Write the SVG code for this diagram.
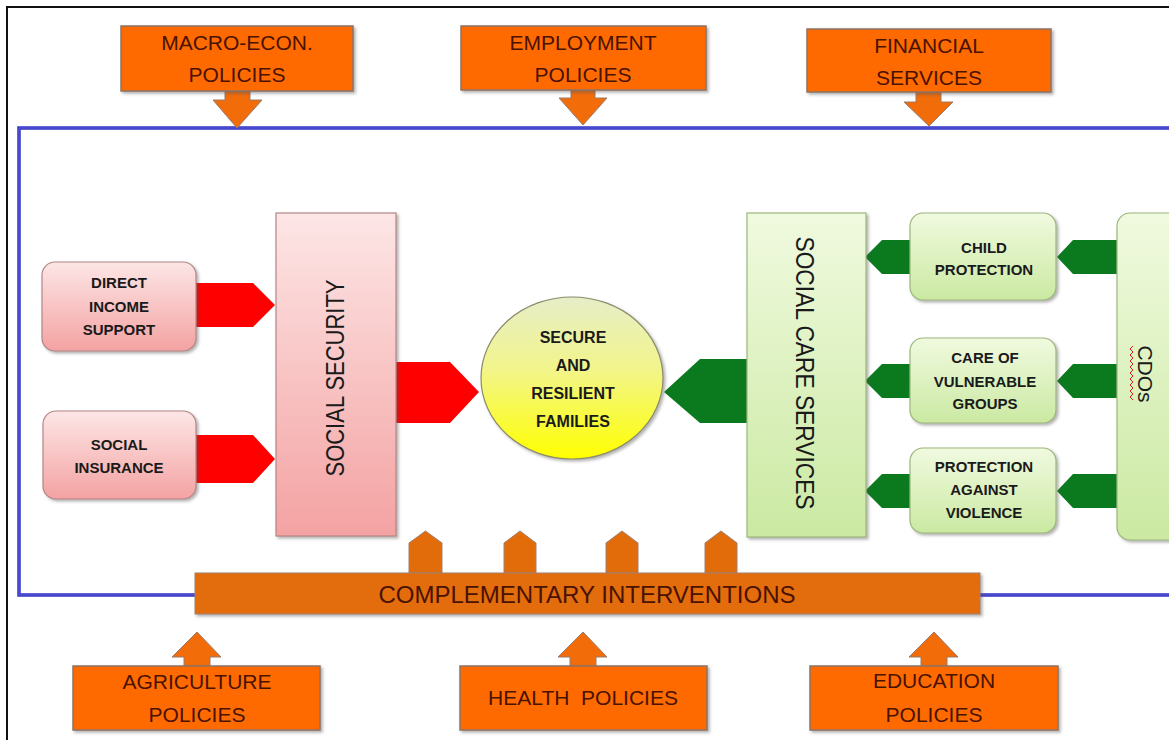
<svg xmlns="http://www.w3.org/2000/svg" width="1169" height="740" viewBox="0 0 1169 740">
<defs>
<linearGradient id="pink" x1="0" y1="0" x2="0" y2="1"><stop offset="0" stop-color="#fde6e6"/><stop offset="1" stop-color="#f4a2a2"/></linearGradient>
<linearGradient id="green" x1="0" y1="0" x2="0" y2="1"><stop offset="0" stop-color="#f0fadf"/><stop offset="1" stop-color="#cbe9a2"/></linearGradient>
<linearGradient id="yellow" x1="0" y1="0" x2="0" y2="1"><stop offset="0" stop-color="#e6edc8"/><stop offset="0.45" stop-color="#f2f58a"/><stop offset="1" stop-color="#ffff00"/></linearGradient>
<filter id="sh" x="-10%" y="-10%" width="130%" height="140%"><feDropShadow dx="2" dy="2" stdDeviation="1.5" flood-color="#555" flood-opacity="0.45"/></filter>
</defs>
<style>
.ob{fill:#ff6a00;stroke:#8c7466;stroke-width:1.5}
.oa{fill:#f26c0a;stroke:#9a7a6a;stroke-width:1}
.bar{fill:#e36c0a;stroke:#a0806e;stroke-width:1}
.ot{font-family:"Liberation Sans",Arial,sans-serif;font-size:21px;fill:#4a1200;text-anchor:middle}
.pk{fill:url(#pink);stroke:#b48686;stroke-width:1.2}
.gr{fill:url(#green);stroke:#9cb67c;stroke-width:1.2}
.bt{font-family:"Liberation Sans",Arial,sans-serif;font-size:15px;font-weight:bold;fill:#1a1a1a;text-anchor:middle}
.big{font-family:"Liberation Sans",Arial,sans-serif;font-size:25px;fill:#1a1a1a;text-anchor:middle}
.red{fill:#ff0000}
.dg{fill:#0b7a1e}
</style>
<rect x="0" y="0" width="1169" height="740" fill="#ffffff"/>
<path d="M7,740 V7 H1169" fill="none" stroke="#111" stroke-width="2"/>
<rect x="19" y="128" width="1160" height="467" fill="none" stroke="#3232c4" stroke-width="3.5"/>
<rect x="19" y="128" width="1160" height="467" fill="none" stroke="#6a6ae0" stroke-width="0.8"/>

<g id="connectors">
<path class="oa" d="M225,91 H250 V100 H262 L237,128 L213,100 H225 Z"/>
<path class="oa" d="M571,90 H595 V98 H607 L583,125 L559,98 H571 Z"/>
<path class="oa" d="M916,92 H941 V102 H953 L929,126 L904,102 H916 Z"/>
<path class="oa" d="M184,666 V657 H172 L197,632 L221,657 H210 V666 Z"/>
<path class="oa" d="M570,666 V657 H558 L583,632 L607,657 H596 V666 Z"/>
<path class="oa" d="M921,666 V657 H909 L934,632 L958,657 H947 V666 Z"/>
<path class="bar" d="M409,573 V543 L425.5,531 L442,543 V573 Z"/>
<path class="bar" d="M504,573 V543 L520,531 L536,543 V573 Z"/>
<path class="bar" d="M606,573 V543 L622,531 L638,543 V573 Z"/>
<path class="bar" d="M705,573 V543 L721,531 L737,543 V573 Z"/>
<path class="red" d="M196,283 H253 L275,305 L253,327 H196 Z"/>
<path class="red" d="M196,435 H253 L275,459 L253,483 H196 Z"/>
<path class="red" d="M396,362 H450 L479,392 L450,423 H396 Z"/>
<path class="dg" d="M747,359 H700 L664,392 L700,423 H747 Z"/>
<path class="dg" d="M910,240 H882 L865,257 L882,274 H910 Z"/>
<path class="dg" d="M910,364 H882 L865,381 L882,398 H910 Z"/>
<path class="dg" d="M910,474 H882 L865,491 L882,508 H910 Z"/>
<path class="dg" d="M1117,240 H1073 L1057,257 L1073,274 H1117 Z"/>
<path class="dg" d="M1117,364 H1073 L1057,381 L1073,398 H1117 Z"/>
<path class="dg" d="M1117,474 H1073 L1057,491 L1073,508 H1117 Z"/>
</g>

<g id="macro"><rect class="ob" x="121" y="26" width="232" height="65" filter="url(#sh)"/><text class="ot" x="237" y="50">MACRO-ECON.</text><text class="ot" x="237" y="82">POLICIES</text></g>
<g id="employment"><rect class="ob" x="461" y="26" width="245" height="64" filter="url(#sh)"/><text class="ot" x="583" y="50">EMPLOYMENT</text><text class="ot" x="583" y="82">POLICIES</text></g>
<g id="financial"><rect class="ob" x="807" y="29" width="244" height="63" filter="url(#sh)"/><text class="ot" x="929" y="53">FINANCIAL</text><text class="ot" x="929" y="85">SERVICES</text></g>

<g id="direct-income"><rect class="pk" x="42" y="262" width="154" height="89" rx="13" filter="url(#sh)"/><text class="bt" x="119" y="288">DIRECT</text><text class="bt" x="119" y="312">INCOME</text><text class="bt" x="119" y="335">SUPPORT</text></g>
<g id="social-insurance"><rect class="pk" x="43" y="411" width="153" height="88" rx="13" filter="url(#sh)"/><text class="bt" x="119" y="450">SOCIAL</text><text class="bt" x="119" y="473">INSURANCE</text></g>
<g id="social-security"><rect class="pk" x="276" y="213" width="120" height="323" filter="url(#sh)"/><text class="big" transform="translate(344,378) rotate(-90)" textLength="197" lengthAdjust="spacingAndGlyphs">SOCIAL SECURITY</text></g>

<g id="families"><ellipse cx="572" cy="378" rx="91" ry="81" fill="url(#yellow)" stroke="#8c8c6a" stroke-width="1.2" filter="url(#sh)"/><text class="bt" style="font-size:16px" x="573" y="343">SECURE</text><text class="bt" style="font-size:16px" x="573" y="371">AND</text><text class="bt" style="font-size:16px" x="573" y="399">RESILIENT</text><text class="bt" style="font-size:16px" x="573" y="427">FAMILIES</text></g>

<g id="social-care"><rect class="gr" x="747" y="213" width="119" height="324" filter="url(#sh)"/><text class="big" transform="translate(796,373) rotate(90)" textLength="273" lengthAdjust="spacingAndGlyphs">SOCIAL CARE SERVICES</text></g>

<g id="child-protection"><rect class="gr" x="910" y="213" width="146" height="87" rx="13" filter="url(#sh)"/><text class="bt" x="984" y="253">CHILD</text><text class="bt" x="984" y="275">PROTECTION</text></g>
<g id="vulnerable"><rect class="gr" x="910" y="338" width="146" height="85" rx="13" filter="url(#sh)"/><text class="bt" x="985" y="363">CARE OF</text><text class="bt" x="985" y="387">VULNERABLE</text><text class="bt" x="985" y="409">GROUPS</text></g>
<g id="violence"><rect class="gr" x="910" y="448" width="146" height="85" rx="13" filter="url(#sh)"/><text class="bt" x="984" y="472">PROTECTION</text><text class="bt" x="984" y="495">AGAINST</text><text class="bt" x="984" y="518">VIOLENCE</text></g>

<g id="cdos"><rect class="gr" x="1117" y="213" width="70" height="327" rx="13" filter="url(#sh)"/><text class="big" style="font-size:21px" transform="translate(1138,374) rotate(90)">CDOs</text><path d="M1133,346 l-3,3 l3,3 l-3,3 l3,3 l-3,3 l3,3 l-3,3 l3,3 l-3,3 l3,3 l-3,3 l3,3 l-3,3 l3,3 l-3,3 l3,3 l-3,3 l3,3" fill="none" stroke="#d02020" stroke-width="1"/></g>

<g id="complementary"><rect class="bar" x="195" y="573" width="785" height="41" filter="url(#sh)"/><text class="ot" style="font-size:24px" x="587" y="603" textLength="417" lengthAdjust="spacingAndGlyphs">COMPLEMENTARY INTERVENTIONS</text></g>

<g id="agriculture"><rect class="ob" x="73" y="666" width="247" height="64" filter="url(#sh)"/><text class="ot" x="197" y="689">AGRICULTURE</text><text class="ot" x="197" y="722">POLICIES</text></g>
<g id="health"><rect class="ob" x="460" y="666" width="247" height="64" filter="url(#sh)"/><text class="ot" x="583" y="705" xml:space="preserve">HEALTH  POLICIES</text></g>
<g id="education"><rect class="ob" x="810" y="666" width="248" height="64" filter="url(#sh)"/><text class="ot" x="934" y="688">EDUCATION</text><text class="ot" x="934" y="722">POLICIES</text></g>
</svg>
